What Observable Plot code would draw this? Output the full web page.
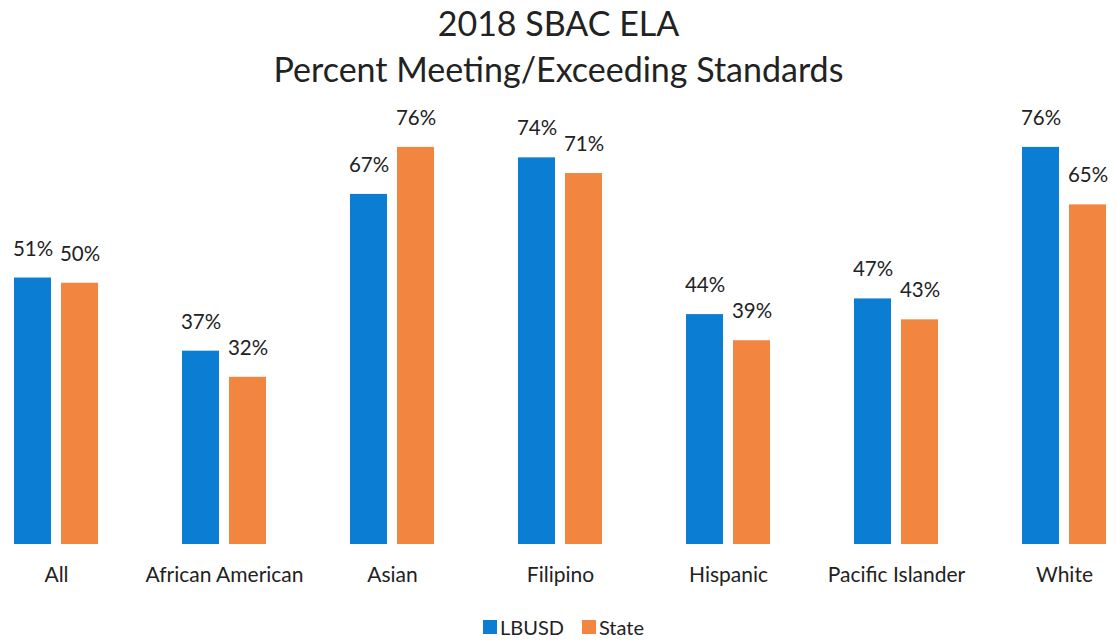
<!DOCTYPE html>
<html>
<head>
<meta charset="utf-8">
<script src="https://cdn.jsdelivr.net/npm/d3@7"></script>
<script src="https://cdn.jsdelivr.net/npm/@observablehq/plot@0.6"></script>
<style>
  html, body { margin: 0; padding: 0; background: #fff; }
  body { width: 1117px; height: 640px; overflow: hidden; font-family: Lato, "Noto Sans", sans-serif; color: #222; }
  #title { height: 96px; text-align: center; font-size: 34px; line-height: 46px; padding-top: 0px; box-sizing: border-box; }
  #legend { display: flex; justify-content: center; align-items: center; gap: 18px; font-size: 20px; margin-top: 19px; padding-left: 10px; }
  .key { display: flex; align-items: center; gap: 3px; }
  .sw { width: 14px; height: 14px; display: inline-block; }
</style>
</head>
<body>
<div id="title">2018 SBAC ELA<br>Percent Meeting/Exceeding Standards</div>
<div id="chart"></div>
<div id="legend"></div>
<script>
const groups = ["All", "African American", "Asian", "Filipino", "Hispanic", "Pacific Islander", "White"];
const seriesNames = ["LBUSD", "State"];
const lbusd = [51, 37, 67, 74, 44, 47, 76];
const state = [50, 32, 76, 71, 39, 43, 65];
const colors = ["#0B7DD3", "#F28540"];

const data = [];
groups.forEach((g, i) => {
  data.push({group: g, series: seriesNames[0], value: lbusd[i]});
  data.push({group: g, series: seriesNames[1], value: state[i]});
});

const chart = Plot.plot({
  width: 1117,
  height: 500,
  marginLeft: 10,
  marginRight: 7,
  marginTop: 30,
  marginBottom: 52,
  style: {fontFamily: "Lato, 'Noto Sans', sans-serif", fontSize: "21px", color: "#222", background: "#fff"},
  fx: {domain: groups, paddingInner: 0.491, paddingOuter: 0, axis: "bottom", tickSize: 0, tickPadding: 23, label: null},
  x: {domain: seriesNames, paddingInner: 0.208, paddingOuter: 0, axis: null},
  y: {domain: [0, 80], axis: null},
  color: {domain: seriesNames, range: colors},
  marks: [
    Plot.barY(data, {fx: "group", x: "series", y: "value", fill: "series"}),
    Plot.text(data, {fx: "group", x: "series", y: "value", text: d => d.value + "%", dy: -29, fontSize: 20.5, fill: "#222"})
  ]
});
document.getElementById("chart").appendChild(chart);

const legend = document.getElementById("legend");
seriesNames.forEach((s, i) => {
  const k = document.createElement("span");
  k.className = "key";
  const sw = document.createElement("span");
  sw.className = "sw";
  sw.style.background = colors[i];
  k.appendChild(sw);
  k.appendChild(document.createTextNode(s));
  legend.appendChild(k);
});
</script>
</body>
</html>
